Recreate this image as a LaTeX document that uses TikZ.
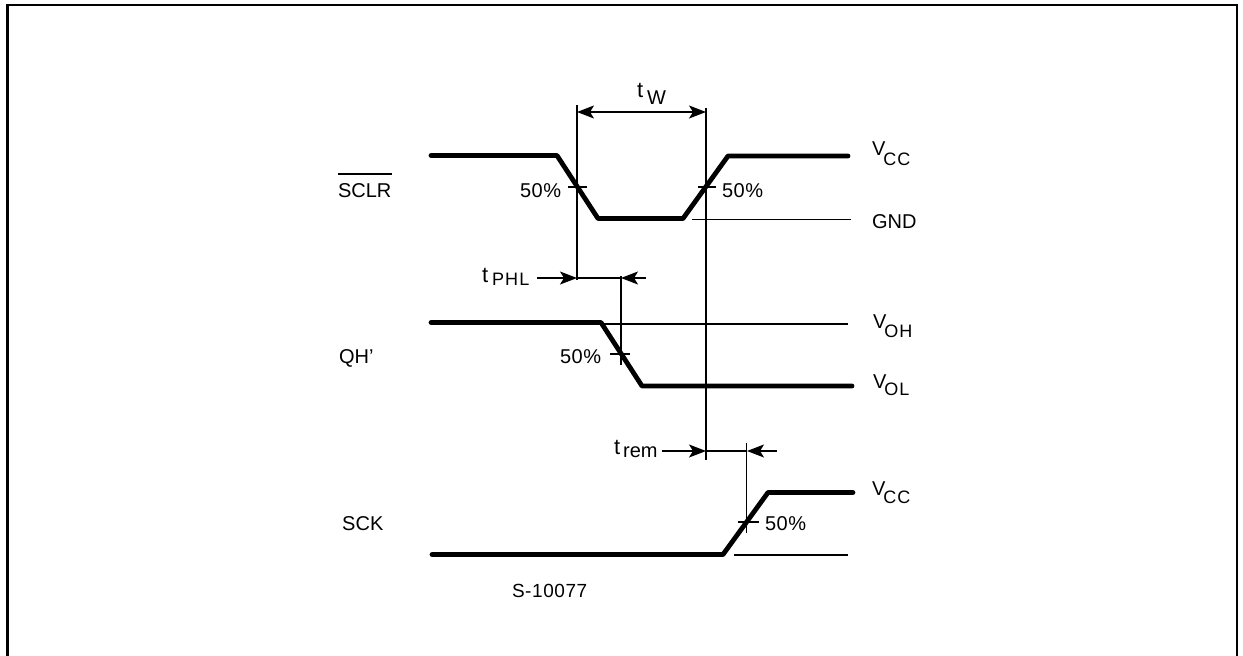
\documentclass[tikz,border=0pt]{standalone}
\usepackage{fontspec}
\setmainfont{Liberation Sans}
\usetikzlibrary{arrows.meta}
\newcommand{\subtxt}[2]{\raisebox{#1}{\fontsize{18}{18}\selectfont\addfontfeatures{LetterSpace=6}#2}}
\tikzset{
  frame/.style={line width=2.6pt,line cap=butt},
  wave/.style={line width=4.8pt,line cap=round,line join=round},
  thin line/.style={line width=1.3pt},
  dim/.style={line width=1.2pt,-{Stealth[length=17pt,width=13pt,inset=4pt]}},
  lab/.style={anchor=base west,inner sep=0pt,outer sep=0pt,font=\fontsize{20}{20}\selectfont},
  pct/.style={lab,font=\fontsize{20}{20}\selectfont\addfontfeatures{LetterSpace=3}},
  vlab/.style={anchor=base west,inner sep=0pt,outer sep=0pt,font=\fontsize{20}{20}\selectfont}
}
\begin{document}
\begin{tikzpicture}[x=1pt,y=-1pt]
\useasboundingbox (0,0) rectangle (1243,656);
% frame
\draw[frame] (7.5,656) -- (7.5,5) -- (1237,5) -- (1237,656);
% waveforms
\draw[wave] (431,155.5) -- (557,155.5) -- (598,218.5) -- (683,218.5) -- (728,156) -- (848,156);
\draw[wave] (431,322.5) -- (601,322.5) -- (642,386) -- (852,386);
\draw[wave] (432,554.5) -- (723,554.5) -- (768,492.5) -- (853,492.5);
% named reference points
\coordinate (a1) at (577,105);  \coordinate (a2) at (577,280);
\coordinate (b1) at (706,108);  \coordinate (b2) at (706,460);
\coordinate (c1) at (621,276);  \coordinate (c2) at (621,365);
\coordinate (d1) at (746.5,443);\coordinate (d2) at (746.5,533);
\coordinate (tw1) at (577,112); \coordinate (tw2) at (706,112);
\coordinate (p1) at (537,278);  \coordinate (p2) at (577,278);
\coordinate (p3) at (621,278);  \coordinate (p4) at (646,278);
\coordinate (r1) at (662,451);  \coordinate (r2) at (706,451);
\coordinate (r3) at (747,451);  \coordinate (r4) at (777,451);
% verticals
\draw[thin line] (a1) -- (a2);
\draw[thin line] (b1) -- (b2);
\draw[thin line] (c1) -- (c2);
\draw[thin line] (d1) -- (d2);
% level lines
\draw[thin line] (692,219.5) -- (851,219.5);
\draw[thin line] (601,324) -- (848,324);
\draw[thin line] (734,555) -- (848,555);
% 50% ticks
\draw[thin line] (568,187) -- (587,187);
\draw[thin line] (698,187) -- (716,187);
\draw[thin line] (610,354) -- (630,354);
\draw[thin line] (738,522) -- (759,522);
% dimension arrows
\draw[dim] (640,112) -- (tw1);
\draw[dim] (640,112) -- (tw2);
\draw[dim] (p1) -- (p2);
\draw[thin line] (p2) -- (p3);
\draw[dim] (p4) -- (p3);
\draw[dim] (r1) -- (r2);
\draw[thin line] (r2) -- (r3);
\draw[dim] (r4) -- (r3);
% signal names
\node[lab] (sclr) at (338,197) {SCLR};
\draw[thin line] (338,174) -- (392,174);
\node[lab] (qh) at (339,363) {QH'};
\node[lab,font=\fontsize{20}{20}\selectfont\addfontfeatures{LetterSpace=1}] (sck) at (342,530) {SCK};
\node[lab,font=\fontsize{19}{19}\selectfont\addfontfeatures{LetterSpace=3}] (code) at (512,597) {S-10077};
% percent labels
\node[pct] (p50a) at (520,197) {50\%};
\node[pct] (p50b) at (722,197) {50\%};
\node[pct] (p50c) at (560,363) {50\%};
\node[pct] (p50d) at (765,530) {50\%};
% timing labels
\node[lab,font=\fontsize{22}{22}\selectfont] (tw) at (637,97) {t\kern4pt\raisebox{-7pt}{\fontsize{20}{20}\selectfont W}};
\node[lab,font=\fontsize{22}{22}\selectfont] (tphl) at (482,282) {t\kern4pt\subtxt{-3pt}{PHL}};
\node[lab,font=\fontsize{22}{22}\selectfont] (trem) at (614,454) {t\kern3pt\raisebox{-3pt}{\fontsize{20}{20}\selectfont rem}};
% level labels
\node[vlab] (vcca) at (872,155) {V\kern-2pt\subtxt{-10pt}{CC}};
\node[lab] (gnd) at (872,228) {GND};
\node[vlab] (voh) at (873,328) {V\kern-2pt\subtxt{-9pt}{OH}};
\node[vlab] (vol) at (873,388) {V\kern-2pt\subtxt{-7pt}{OL}};
\node[vlab] (vccb) at (872,495) {V\kern-2pt\subtxt{-8pt}{CC}};
\end{tikzpicture}
\end{document}
